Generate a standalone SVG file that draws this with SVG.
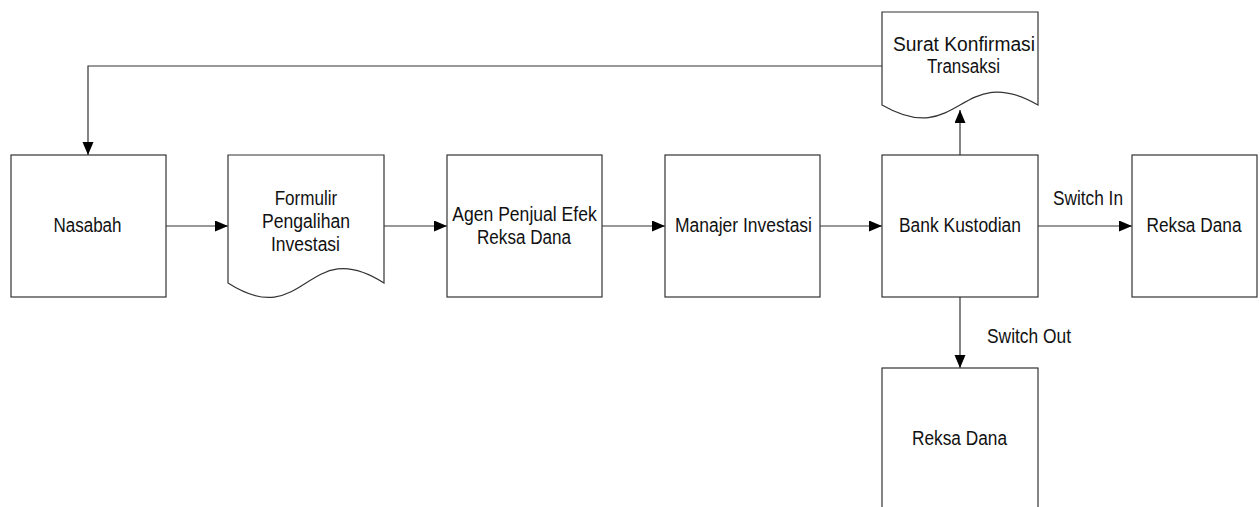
<svg xmlns="http://www.w3.org/2000/svg" width="1260" height="507" viewBox="0 0 1260 507">
<style>
.box{fill:#fff;stroke:#333;stroke-width:1.2}
.lbl{font-family:"Liberation Sans",Arial,sans-serif;font-size:20px;fill:#111;text-anchor:middle}
.con{fill:none;stroke:#333;stroke-width:1.2}
</style>
<defs>
<marker id="ah" markerUnits="userSpaceOnUse" markerWidth="14" markerHeight="12" refX="13" refY="5.5" orient="auto">
<path d="M0,0 L13,5.5 L0,11 Z" fill="#000"/>
</marker>
</defs>
<rect width="1260" height="507" fill="#fff"/>
<g id="connectors">
<path class="con" d="M166,226 H228" marker-end="url(#ah)"/>
<path class="con" d="M384,226 H447" marker-end="url(#ah)"/>
<path class="con" d="M602,226 H665" marker-end="url(#ah)"/>
<path class="con" d="M820,226 H882" marker-end="url(#ah)"/>
<path class="con" d="M1038,226 H1132" marker-end="url(#ah)"/>
<path class="con" d="M960,155 V110" marker-end="url(#ah)"/>
<path class="con" d="M960,297 V368" marker-end="url(#ah)"/>
<path class="con" d="M882,66 H88 V155" marker-end="url(#ah)"/>
<text class="lbl" x="1088" y="205" textLength="70" lengthAdjust="spacingAndGlyphs">Switch In</text>
<text class="lbl" x="1029" y="343" textLength="84" lengthAdjust="spacingAndGlyphs">Switch Out</text>
</g>
<g id="nasabah">
<rect class="box" x="11" y="155" width="155" height="142"/>
<text class="lbl" x="87.5" y="232" textLength="68" lengthAdjust="spacingAndGlyphs">Nasabah</text>
</g>
<g id="formulir">
<path class="box" d="M228,155 H384 V283 C306,233 306,333 228,283 Z"/>
<text class="lbl" x="306" y="205" textLength="62.6" lengthAdjust="spacingAndGlyphs">Formulir</text>
<text class="lbl" x="306" y="228" textLength="88" lengthAdjust="spacingAndGlyphs">Pengalihan</text>
<text class="lbl" x="305.5" y="251" textLength="69" lengthAdjust="spacingAndGlyphs">Investasi</text>
</g>
<g id="agen">
<rect class="box" x="447" y="155" width="155" height="142"/>
<text class="lbl" x="524.5" y="221" textLength="144.5" lengthAdjust="spacingAndGlyphs">Agen Penjual Efek</text>
<text class="lbl" x="524" y="243.5" textLength="94" lengthAdjust="spacingAndGlyphs">Reksa Dana</text>
</g>
<g id="manajer">
<rect class="box" x="665" y="155" width="155" height="142"/>
<text class="lbl" x="743.5" y="232" textLength="137" lengthAdjust="spacingAndGlyphs">Manajer Investasi</text>
</g>
<g id="bank">
<rect class="box" x="882" y="155" width="156" height="142"/>
<text class="lbl" x="960" y="232" textLength="122" lengthAdjust="spacingAndGlyphs">Bank Kustodian</text>
</g>
<g id="surat">
<path class="box" d="M882,12 H1038 V105 C960,60 960,150 882,105 Z"/>
<text class="lbl" x="964" y="51" textLength="142" lengthAdjust="spacingAndGlyphs">Surat Konfirmasi</text>
<text class="lbl" x="963.5" y="72.5" textLength="73" lengthAdjust="spacingAndGlyphs">Transaksi</text>
</g>
<g id="reksa-in">
<rect class="box" x="1132" y="155" width="125" height="142"/>
<text class="lbl" x="1194" y="232" textLength="95" lengthAdjust="spacingAndGlyphs">Reksa Dana</text>
</g>
<g id="reksa-out">
<rect class="box" x="882" y="368" width="156" height="150"/>
<text class="lbl" x="959.5" y="445" textLength="95" lengthAdjust="spacingAndGlyphs">Reksa Dana</text>
</g>
</svg>
